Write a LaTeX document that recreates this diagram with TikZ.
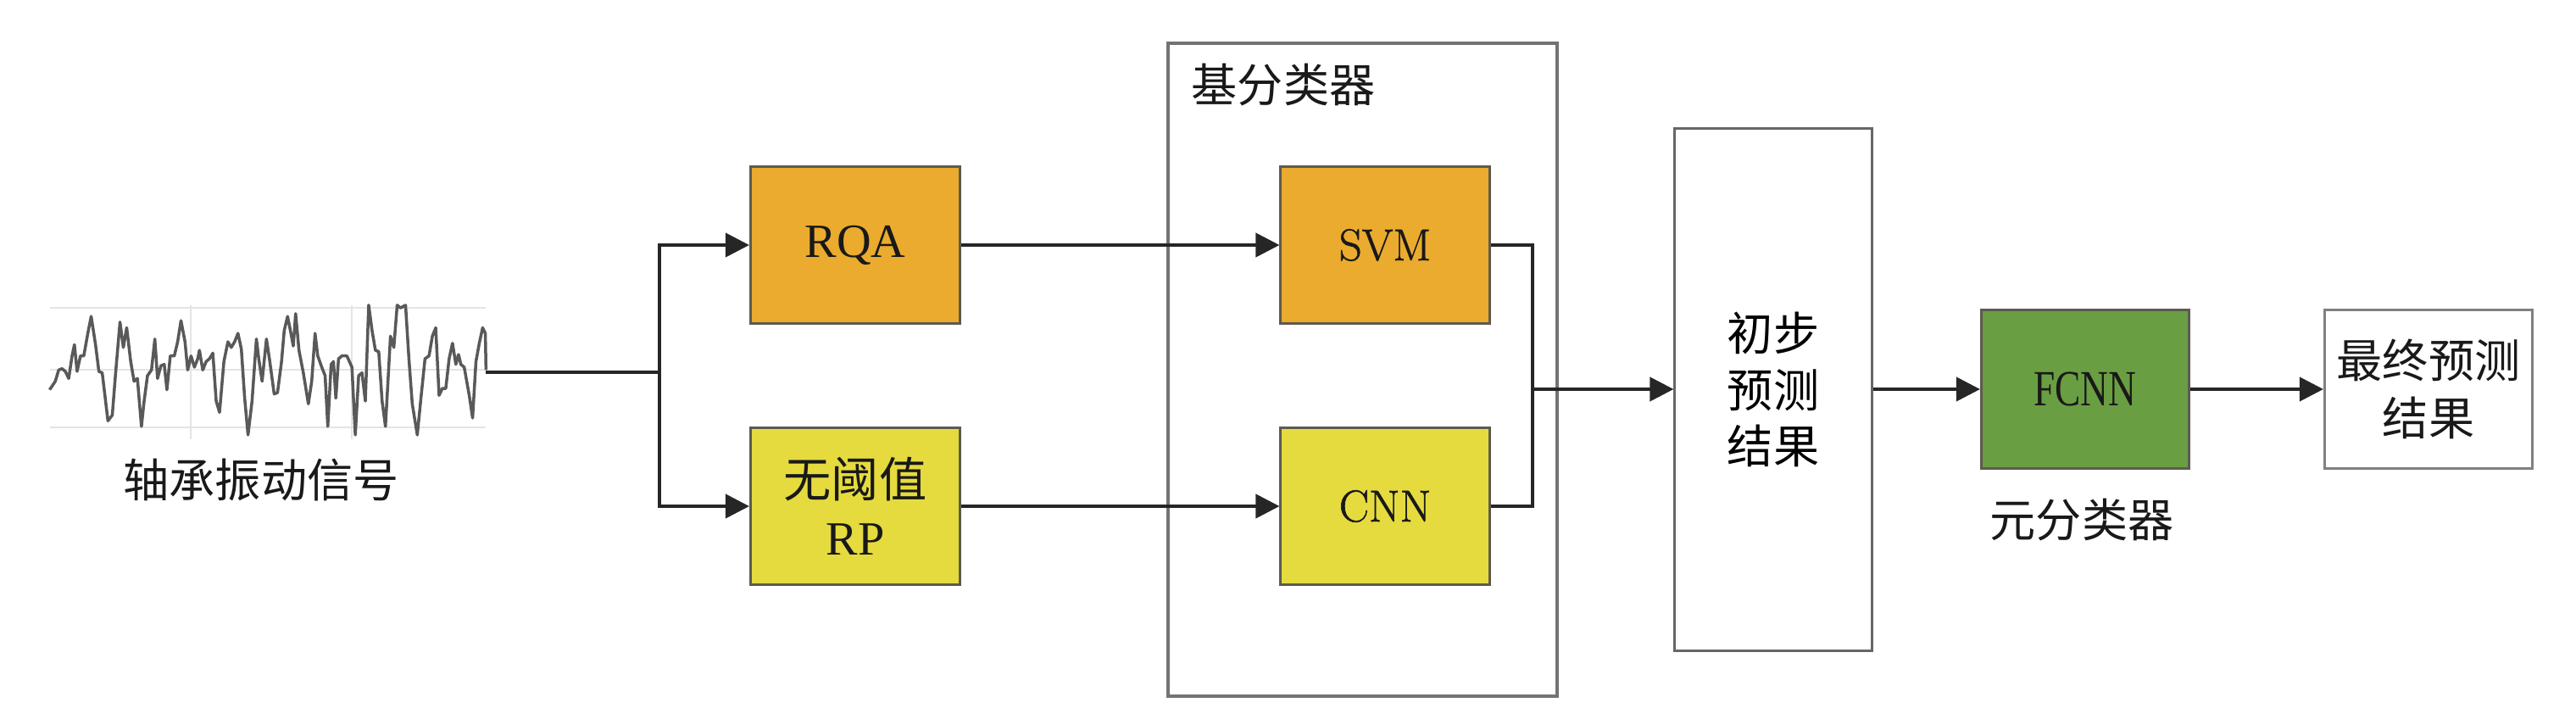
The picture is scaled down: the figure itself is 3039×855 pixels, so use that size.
\documentclass[tikz,border=0pt]{standalone}
\usepackage{fontspec}
\usepackage{tikz}
\usetikzlibrary{arrows.meta,positioning}
\newfontfamily\cjkfont{Noto Sans CJK SC}
\newfontfamily\timesfont{Liberation Serif}
\newfontfamily\narrowfont[FakeStretch=0.76]{Liberation Serif}
\newfontfamily\cmfont[FakeBold=1.2]{Latin Modern Roman}
\definecolor{rqaorange}{HTML}{EAAB2E}
\definecolor{rpyellow}{HTML}{E5DB3E}
\definecolor{fcnngreen}{HTML}{6A9E42}
\definecolor{edgegray}{HTML}{5E5A50}
\definecolor{linedark}{HTML}{262626}
\definecolor{gridgray}{HTML}{E4E4E4}

\begin{document}
\begin{tikzpicture}[x=0.01cm, y=-0.01cm,
    box/.style={rectangle, draw=edgegray, line width=0.03cm, minimum width=2.47cm, minimum height=1.84cm, inner sep=0pt, align=center, text=black!90, font=\fontsize{16pt}{19.4pt}\selectfont\timesfont},
    tallbox/.style={rectangle, draw=black!60, line width=0.03cm, minimum width=2.32cm, minimum height=6.15cm, inner sep=0pt, align=center, font=\fontsize{15.4pt}{19pt}\selectfont\cjkfont},
    groupbox/.style={rectangle, draw=black!55, line width=0.035cm, minimum width=4.59cm, minimum height=7.70cm, inner sep=0pt},
    caption/.style={inner sep=0pt, text=black!90, font=\fontsize{15.4pt}{19pt}\selectfont\cjkfont},
    line/.style={draw=linedark, line width=0.04cm},
    arrow/.style={line, -{Triangle[length=0.28cm, width=0.28cm]}},
    gridline/.style={draw=gridgray, line width=0.02cm},
    wave/.style={draw=black!65, line width=0.035cm, line join=round}]
    \useasboundingbox (0,0) rectangle (3039,855);

    % base classifier group
    \node[groupbox] (base) at (1607.5,436) {};
    \node[caption, anchor=west] (baselabel) at (1405,100) {基分类器};

    % vibration signal
    \begin{scope}[yshift=-3.3967cm, x=0.003954cm, y=-0.003333cm]
        \draw[gridline] (148,70) -- (1450,70);
        \draw[gridline] (148,290) -- (1450,290);
        \draw[gridline] (148,492) -- (1450,492);
        \draw[gridline] (568,60) -- (568,535);
        \draw[gridline] (1050,60) -- (1050,535);
        \draw[wave] plot coordinates {(148,360) (165,330) (175,290) (185,285) (195,295) (205,320) (215,240) (222,200) (230,295) (240,240) (250,240) (262,160) (272,100) (285,200) (295,295) (305,300) (315,400) (322,470) (335,450) (345,300) (358,120) (368,210) (378,140) (390,260) (400,330) (410,320) (422,490) (430,400) (440,310) (452,290) (462,180) (470,320) (480,275) (490,270) (498,360) (508,240) (520,240) (530,190) (540,115) (552,190) (560,290) (570,240) (580,280) (590,250) (595,220) (605,290) (615,260) (625,250) (635,230) (645,400) (655,440) (668,260) (680,190) (690,210) (700,190) (710,160) (720,215) (730,390) (740,520) (752,400) (765,180) (772,250) (782,330) (795,180) (805,260) (818,375) (828,370) (840,260) (848,150) (858,100) (868,160) (875,205) (882,90) (892,220) (905,300) (920,410) (930,330) (940,160) (948,240) (960,280) (970,310) (978,490) (988,270) (995,260) (1002,390) (1010,250) (1020,240) (1035,240) (1050,280) (1060,520) (1070,310) (1080,300) (1090,400) (1100,60) (1110,150) (1120,220) (1130,225) (1140,400) (1150,490) (1165,170) (1175,210) (1185,60) (1195,70) (1210,60) (1220,250) (1230,410) (1245,520) (1255,400) (1268,250) (1280,240) (1290,170) (1300,140) (1310,380) (1320,355) (1330,355) (1340,250) (1350,195) (1360,270) (1368,235) (1375,270) (1385,280) (1400,380) (1410,460) (1420,260) (1430,195) (1440,140) (1448,160) (1450,290)};
    \end{scope}
    \node[caption] (siglabel) at (308,566) {轴承振动信号};
    \coordinate (sigend) at (573,439);
    \coordinate (split) at (778,439);

    % feature extraction
    \node[box, fill=rqaorange] (rqa) at (1009,289) {RQA};
    \node[box, fill=rpyellow, text width=2.4cm] (rp) at (1009,597) {{\cjkfont 无阈值}\par RP};

    % base classifiers
    \node[box, fill=rqaorange, minimum width=2.46cm, font=\fontsize{15pt}{19pt}\selectfont\cmfont] (svm) at (1634,289) {SVM};
    \node[box, fill=rpyellow, minimum width=2.46cm, font=\fontsize{15pt}{19pt}\selectfont\cmfont] (cnn) at (1634,597) {CNN};

    % meta classifier and results
    \node[tallbox] (prelim) at (2092,459.5) {初步\\预测\\结果};
    \node[box, fill=fcnngreen, minimum width=2.45cm, minimum height=1.86cm, font=\fontsize{17pt}{19pt}\selectfont\narrowfont] (fcnn) at (2460,459) {FCNN};
    \node[caption] (metalabel) at (2456,613) {元分类器};
    \node[box, draw=black!50, minimum width=2.45cm, minimum height=1.86cm, font=\fontsize{15.4pt}{19.4pt}\selectfont\cjkfont] (final) at (2865,459) {最终预测\\结果};
    \coordinate (merge) at (1808,459);

    % Arrows
    \draw[line] (sigend) -- (split);
    \draw[arrow] (split) |- (rqa.west);
    \draw[arrow] (split) |- (rp.west);
    \draw[arrow] (rqa) -- (svm);
    \draw[arrow] (rp) -- (cnn);
    \draw[line] (svm.east) -| (merge);
    \draw[line] (cnn.east) -| (merge);
    \draw[arrow] (merge) -- (prelim.west |- merge);
    \draw[arrow] (prelim.east |- fcnn.west) -- (fcnn.west);
    \draw[arrow] (fcnn) -- (final);
\end{tikzpicture}
\end{document}
